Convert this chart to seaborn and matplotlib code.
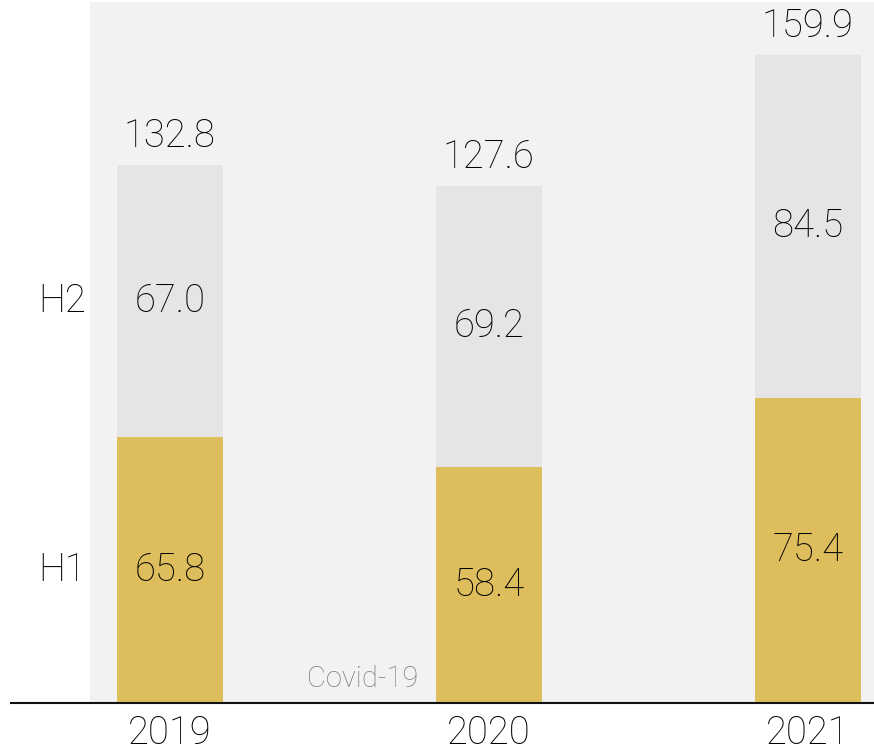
import numpy as np
import pandas as pd
import matplotlib.pyplot as plt
import seaborn as sns

# data
years = ['2019', '2020', '2021']
h1 = [65.8, 58.4, 75.4]
h2 = [67.0, 69.2, 84.5]
totals = [132.8, 127.6, 159.9]

df = pd.DataFrame({'year': years, 'H1': h1, 'H2': h2, 'total': totals})

sns.set_style('white')
plt.rcParams['font.family'] = ['Roboto', 'DejaVu Sans']
plt.rcParams['font.weight'] = 'light'

fig = plt.figure(figsize=(8.74, 7.56), dpi=100)
ax = fig.add_axes([11 / 874, 53 / 756, 863 / 874, 703 / 756])

gold = '#DDBD5C'
light = '#E5E5E5'

# shaded background behind the bars
ax.axvspan(-0.25, 2.3, ymax=0.997, color='#F2F2F2', zorder=0, lw=0)

# stacked bars: full total in grey, H1 in gold on top
sns.barplot(data=df, x='year', y='total', color=light, saturation=1,
            width=0.332, ax=ax, zorder=2, linewidth=0)
sns.barplot(data=df, x='year', y='H1', color=gold, saturation=1,
            width=0.332, ax=ax, zorder=3, linewidth=0)

ax.set_xlim(-0.498, 2.207)
ax.set_ylim(0, 173.6)

# value labels
fs = 27.5
tc = '#000000'
for i in range(len(years)):
    ax.text(i, h1[i] / 2, f'{h1[i]:.1f}', ha='center', va='center',
            fontsize=fs, color=tc, zorder=4)
    ax.text(i, h1[i] + h2[i] / 2, f'{h2[i]:.1f}', ha='center', va='center',
            fontsize=fs, color=tc, zorder=4)
    ax.text(i, totals[i] + 2.6, f'{totals[i]:.1f}', ha='center', va='bottom',
            fontsize=fs, color=tc, zorder=4)

# series labels at the left
ax.text(-0.339, h1[0] / 2, 'H1', ha='center', va='center', fontsize=fs, color=tc)
ax.text(-0.339, h1[0] + h2[0] / 2, 'H2', ha='center', va='center', fontsize=fs, color=tc)

ax.text(0.777, 5.9, 'Covid-19', ha='right', va='center', fontsize=21,
        color='#7f7f7f', zorder=4)

# axes styling
for s in ['top', 'right', 'left']:
    ax.spines[s].set_visible(False)
ax.spines['bottom'].set_color('#111111')
ax.spines['bottom'].set_linewidth(1.5)
ax.spines['bottom'].set_zorder(5)
ax.set_yticks([])
ax.set_xlabel('')
ax.set_ylabel('')
ax.tick_params(axis='x', length=0, pad=8, labelsize=fs, labelcolor=tc)

fig.savefig('out.png', dpi=100)
